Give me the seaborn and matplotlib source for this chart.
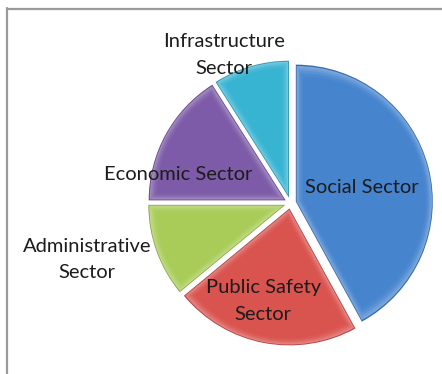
import matplotlib
matplotlib.use("Agg")
import matplotlib.pyplot as plt
import matplotlib.patches as mpatches
from matplotlib.lines import Line2D
from matplotlib.transforms import Affine2D
import numpy as np
import seaborn as sns
from matplotlib.colors import to_rgb

sns.set_theme(style="white")
plt.rcParams["font.family"] = ["Lato", "DejaVu Sans"]

# Share of each sector, clockwise from twelve o'clock
sectors = ["Social Sector", "Public Safety\nSector", "Administrative\nSector",
           "Economic Sector", "Infrastructure\nSector"]
shares = [42, 22, 11, 16, 9]
base_colors = ["#4684CE", "#D9534F", "#A9CC58", "#7D5BA8", "#38B4D3"]

# Label anchor points in data units (pie centre at origin, radius 1)
label_xy = [(0.52, 0.11), (-0.20, -0.715), (-1.485, -0.415),
            (-0.82, 0.21), (-0.485, 1.08)]

W, H, DPI = 442, 374, 100
fig = plt.figure(figsize=(W / DPI, H / DPI), dpi=DPI)
fig.patch.set_facecolor("white")
ax = fig.add_axes([0, 0, 1, 1])

R_PX = 137.0
CX, CY = 290.5, 203.0

wedges, _ = ax.pie(shares, colors=base_colors, startangle=90, counterclock=False,
                   explode=[0.04] * len(shares), radius=1.0,
                   wedgeprops=dict(linewidth=0))


def mix(c1, c2, t):
    a, b = np.array(to_rgb(c1)), np.array(to_rgb(c2))
    return tuple(a + (b - a) * t)


# Soft bevel: stack progressively inset copies of each wedge,
# going from a light rim to the base colour in the middle.
for w, col in zip(wedges, base_colors):
    cx, cy = w.center
    r = w.r
    t1, t2 = np.deg2rad(w.theta1), np.deg2rad(w.theta2)
    half = abs(t2 - t1) / 2
    mid = (t1 + t2) / 2
    sa = np.sin(min(half, np.pi / 2))
    rho = r / (1 + sa)
    px, py = cx + rho * np.cos(mid), cy + rho * np.sin(mid)
    w.set_facecolor(mix(col, "black", 0.18))
    steps = [(0.006, 0.28), (0.014, 0.20), (0.024, 0.11), (0.036, 0.04), (0.05, 0.0)]
    for d, t in steps:
        s = 1 - d * (1 + sa) / (r * sa)
        inner = mpatches.Wedge((cx, cy), r, w.theta1, w.theta2, linewidth=0,
                               facecolor=mix(col, "white", t))
        inner.set_transform(Affine2D().translate(-px, -py).scale(s)
                            .translate(px, py) + ax.transData)
        ax.add_patch(inner)

for (x, y), txt in zip(label_xy, sectors):
    ax.text(x, y, txt, ha="center", va="center", fontsize=14.5,
            color="#1c1c1c", linespacing=1.65, zorder=10)

ax.set_xlim(-CX / R_PX, (W - CX) / R_PX)
ax.set_ylim((CY - H) / R_PX, CY / R_PX)
ax.set_aspect("auto")
ax.axis("off")

# Grey frame along the top and left edges
gray = "#9a9a9a"
fig.add_artist(Line2D([7 / W, 7 / W], [0, 1 - 8 / H], transform=fig.transFigure,
                      color=gray, linewidth=1.6))
fig.add_artist(Line2D([7 / W, 1], [1 - 9 / H, 1 - 9 / H], transform=fig.transFigure,
                      color=gray, linewidth=1.6))

fig.savefig("out.png", dpi=DPI, facecolor="white")
